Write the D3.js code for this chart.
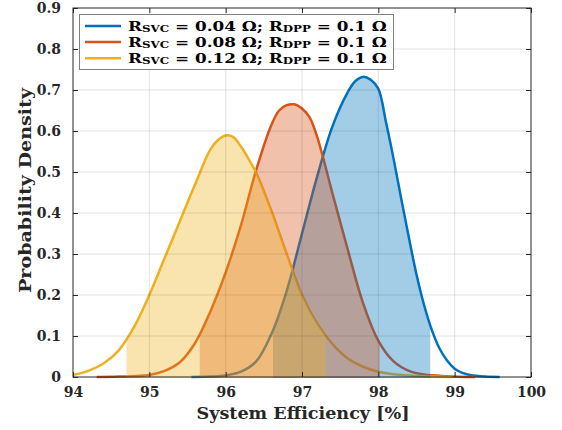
<!DOCTYPE html>
<html><head><meta charset="utf-8">
<script src="https://cdn.jsdelivr.net/npm/d3@7"></script>
<style>body{margin:0;background:#fff}svg{display:block}</style>
</head><body>
<svg id="c" width="562" height="430"></svg>
<script>
// ---- data ----
const xTicks = [94, 95, 96, 97, 98, 99, 100];
const xTickLabels = ["94", "95", "96", "97", "98", "99", "100"];
const yTicks = [0, 0.1, 0.2, 0.3, 0.4, 0.5, 0.6, 0.7, 0.8, 0.9];
const yTickLabels = ["0", "0.1", "0.2", "0.3", "0.4", "0.5", "0.6", "0.7", "0.8", "0.9"];

const effBlue = [95.55, 95.8, 96.0, 96.2, 96.4, 96.6, 96.8, 97.0, 97.2, 97.4, 97.6, 97.7, 97.8, 97.9, 98.0, 98.1, 98.2, 98.3, 98.4, 98.5, 98.6, 98.7, 98.8, 98.9, 99.0, 99.1, 99.2, 99.4, 99.59];
const denBlue = [0, 0.001, 0.004, 0.013, 0.038, 0.105, 0.21, 0.35, 0.49, 0.612, 0.695, 0.722, 0.732, 0.725, 0.703, 0.622, 0.532, 0.435, 0.34, 0.25, 0.175, 0.115, 0.07, 0.04, 0.02, 0.01, 0.005, 0.001, 0];

const effRed = [94.31, 94.6, 95.0, 95.2, 95.4, 95.6, 95.8, 96.0, 96.2, 96.4, 96.6, 96.7, 96.8, 96.9, 97.0, 97.1, 97.2, 97.4, 97.6, 97.8, 98.0, 98.2, 98.4, 98.6, 98.9, 99.27];
const denRed = [0, 0.001, 0.005, 0.015, 0.036, 0.083, 0.16, 0.255, 0.37, 0.505, 0.615, 0.65, 0.663, 0.665, 0.655, 0.633, 0.585, 0.447, 0.31, 0.18, 0.088, 0.038, 0.015, 0.006, 0.002, 0];

const effYellow = [94.0, 94.2, 94.4, 94.6, 94.8, 95.0, 95.2, 95.4, 95.6, 95.8, 95.9, 96.0, 96.1, 96.2, 96.3, 96.4, 96.6, 96.8, 97.0, 97.2, 97.4, 97.6, 97.8, 98.0, 98.3, 98.6, 98.96];
const denYellow = [0.005, 0.015, 0.033, 0.065, 0.122, 0.20, 0.29, 0.38, 0.47, 0.555, 0.578, 0.589, 0.585, 0.562, 0.532, 0.498, 0.405, 0.30, 0.20, 0.13, 0.08, 0.045, 0.025, 0.013, 0.005, 0.002, 0];

const seriesColors = ["#0072BD", "#D95319", "#EDB120"];
const fillLo = [96.62, 95.66, 94.70];
const fillHi = [98.68, 98.02, 97.31];
const rsvcValues = ["0.04", "0.08", "0.12"];
const rdppValue = "0.1";
const xLabel = "System Efficiency [%]";
const yLabel = "Probability Density";

// ---- chart ----
const svg = d3.select("#c");
const L = 73, R = 531, T = 8, B = 377;
const x = d3.scaleLinear().domain([94, 100]).range([L, R]);
const y = d3.scaleLinear().domain([0, 0.9]).range([B, T]);
const FONT = "'DejaVu Serif', serif";
const axisColor = "#262626";

const series = [
  {eff: effBlue, den: denBlue},
  {eff: effRed, den: denRed},
  {eff: effYellow, den: denYellow}
].map((s, i) => ({
  pts: s.eff.map((e, j) => [e, s.den[j]]),
  color: seriesColors[i], lo: fillLo[i], hi: fillHi[i]
}));

const defs = svg.append("defs");
defs.append("clipPath").attr("id", "plotclip").append("rect")
  .attr("x", L).attr("y", 0).attr("width", R - L).attr("height", B + 6);
series.forEach((s, i) => {
  defs.append("clipPath").attr("id", "fc" + i).append("rect")
    .attr("x", x(s.lo)).attr("y", T).attr("width", x(s.hi) - x(s.lo)).attr("height", B - T + 1.5);
});

const curve = d3.curveCatmullRom.alpha(0.5);
const line = d3.line().x(d => x(d[0])).y(d => Math.min(y(d[1]), B)).curve(curve);
const area = d3.area().x(d => x(d[0])).y0(B + 1).y1(d => y(d[1])).curve(curve);

// lines first
const gl = svg.append("g").attr("clip-path", "url(#plotclip)");
series.forEach(s => {
  gl.append("path").attr("d", line(s.pts)).attr("fill", "none")
    .attr("stroke", s.color).attr("stroke-width", 2.5).attr("stroke-linejoin", "round");
});
// transparent fills on top
series.forEach((s, i) => {
  svg.append("path").attr("d", area(s.pts)).attr("fill", s.color).attr("fill-opacity", 0.36)
    .attr("clip-path", "url(#fc" + i + ")");
});

// grid
const grid = svg.append("g");
xTicks.slice(1, -1).forEach(t => {
  grid.append("line").attr("x1", x(t)).attr("x2", x(t)).attr("y1", T).attr("y2", B)
    .attr("stroke", "rgba(38,38,38,0.13)").attr("stroke-width", 1);
});
yTicks.slice(1, -1).forEach(t => {
  grid.append("line").attr("x1", L).attr("x2", R).attr("y1", y(t)).attr("y2", y(t))
    .attr("stroke", "rgba(38,38,38,0.13)").attr("stroke-width", 1);
});

// axes
const xAxisB = d3.axisBottom(x).tickValues(xTicks).tickSize(-5).tickFormat((d, i) => xTickLabels[i]).tickPadding(10);
const xAxisT = d3.axisTop(x).tickValues(xTicks).tickSize(-5).tickFormat("");
const yAxisL = d3.axisLeft(y).tickValues(yTicks).tickSize(-5).tickFormat((d, i) => yTickLabels[i]).tickPadding(12);
const yAxisR = d3.axisRight(y).tickValues(yTicks).tickSize(-5).tickFormat("");

function style(g) {
  g.selectAll("path.domain").attr("stroke", axisColor).attr("stroke-width", 1);
  g.selectAll(".tick line").attr("stroke", axisColor).attr("stroke-width", 1);
  g.selectAll(".tick text").attr("fill", axisColor).attr("font-family", FONT)
    .attr("font-weight", "bold").attr("font-size", 14);
}
svg.append("g").attr("transform", `translate(0,${B})`).call(xAxisB).call(style)
  .call(g => g.select(".domain").remove());
svg.append("g").attr("transform", `translate(0,${T})`).call(xAxisT).call(style)
  .call(g => g.select(".domain").remove());
svg.append("g").attr("transform", `translate(${L},0)`).call(yAxisL).call(style)
  .call(g => g.select(".domain").remove());
svg.append("g").attr("transform", `translate(${R},0)`).call(yAxisR).call(style)
  .call(g => g.select(".domain").remove());
svg.append("rect").attr("x", L).attr("y", T).attr("width", R - L).attr("height", B - T)
  .attr("fill", "none").attr("stroke", axisColor).attr("stroke-width", 1);

// axis labels
svg.append("text").attr("x", (L + R) / 2 + 1).attr("y", 419).attr("text-anchor", "middle")
  .attr("font-family", FONT).attr("font-weight", "bold").attr("font-size", 16.5).attr("fill", axisColor)
  .attr("textLength", 213).attr("lengthAdjust", "spacingAndGlyphs").text(xLabel);
svg.append("text").attr("transform", `translate(31,${(T + B) / 2 - 2}) rotate(-90)`).attr("text-anchor", "middle")
  .attr("font-family", FONT).attr("font-weight", "bold").attr("font-size", 16.5).attr("fill", axisColor)
  .attr("textLength", 205).attr("lengthAdjust", "spacingAndGlyphs").text(yLabel);

// legend
const lg = svg.append("g");
lg.append("rect").attr("x", 79.5).attr("y", 14.5).attr("width", 314).attr("height", 55)
  .attr("fill", "#fff").attr("stroke", "#7f7f7f").attr("stroke-width", 1);
const rows = [26, 42, 58.3];
series.forEach((s, i) => {
  lg.append("line").attr("x1", 85).attr("x2", 121).attr("y1", rows[i]).attr("y2", rows[i])
    .attr("stroke", s.color).attr("stroke-width", 2.5);
  const tg = lg.append("g").attr("transform", `translate(128,${rows[i] + 4.5})`);
  const t = tg.append("text").attr("x", 0).attr("y", 0)
    .attr("font-family", FONT).attr("font-weight", "bold").attr("font-size", 13.5).attr("fill", "#000");
  t.append("tspan").text("R");
  t.append("tspan").attr("font-size", 9.5).attr("dy", 1).text("SVC");
  t.append("tspan").attr("dy", -1).text(" = " + rsvcValues[i] + " Ω; R");
  t.append("tspan").attr("font-size", 9.5).attr("dy", 1).text("DPP");
  t.append("tspan").attr("dy", -1).text(" = " + rdppValue + " Ω");
  const w = t.node().getComputedTextLength();
  const sx = 259 / w;
  tg.attr("transform", `translate(128,${rows[i] + 4.5}) scale(${sx},1)`);
});
</script>
</body></html>
